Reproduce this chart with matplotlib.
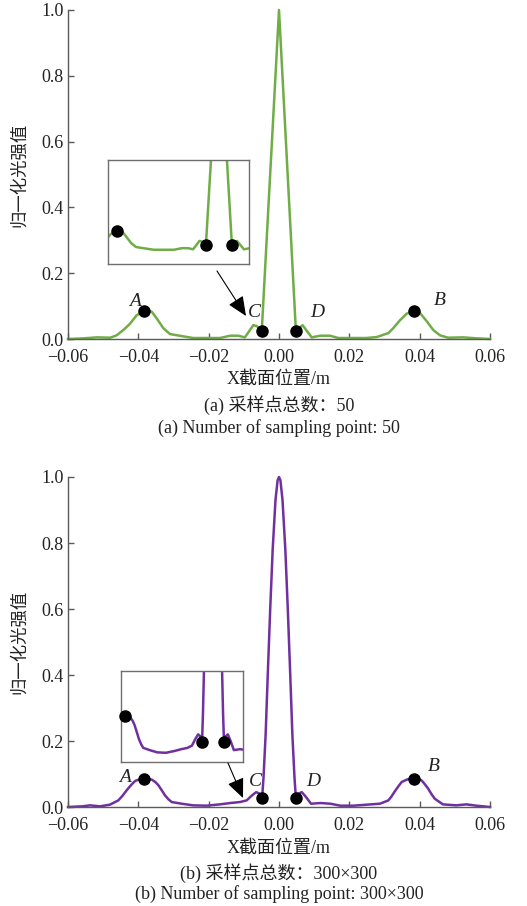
import matplotlib
matplotlib.use("Agg")
import matplotlib.pyplot as plt
from matplotlib.ticker import FuncFormatter, MultipleLocator

plt.rcParams["font.family"] = ["Liberation Serif", "Noto Sans CJK SC"]
plt.rcParams["axes.unicode_minus"] = True

# profile with 50 sampling points (piecewise linear)
x_50 = [-0.0600, -0.0556, -0.0518, -0.0480, -0.0462, -0.0443, -0.0424, -0.0405,
        -0.0383, -0.0362, -0.0348, -0.0329, -0.0310, -0.0272, -0.0244, -0.0206,
        -0.0168, -0.0139, -0.0116, -0.0097, -0.0073, -0.0063, -0.0049, 0.0000,
        0.0048, 0.0067, 0.0093, 0.0117, 0.0145, 0.0169, 0.0249, 0.0278,
        0.0311, 0.0325, 0.0344, 0.0363, 0.0384, 0.0401, 0.0420, 0.0439,
        0.0458, 0.0481, 0.0524, 0.0562, 0.0600]
y_50 = [0.000, 0.002, 0.005, 0.004, 0.011, 0.027, 0.046, 0.072,
        0.085, 0.083, 0.063, 0.033, 0.015, 0.008, 0.003, 0.003,
        0.003, 0.010, 0.010, 0.005, 0.042, 0.039, 0.025, 1.000,
        0.025, 0.042, 0.005, 0.010, 0.010, 0.003, 0.003, 0.006,
        0.018, 0.033, 0.057, 0.077, 0.085, 0.079, 0.054, 0.027,
        0.011, 0.004, 0.005, 0.002, 0.000]

# profile with 300x300 sampling points
x_300 = [-0.0600, -0.0560, -0.0537, -0.0509, -0.0481, -0.0457, -0.0445, -0.0433,
         -0.0421, -0.0409, -0.0396, -0.0383, -0.0372, -0.0362, -0.0352, -0.0343,
         -0.0333, -0.0324, -0.0314, -0.0305, -0.0277, -0.0244, -0.0206, -0.0168,
         -0.0139, -0.0111, -0.0092, -0.0077, -0.0065, -0.0054, -0.0048, -0.0044,
         -0.0038, -0.0032, -0.0025, -0.0018, -0.0010, -0.0004, 0.0000, 0.0004,
         0.0010, 0.0018, 0.0025, 0.0032, 0.0038, 0.0044, 0.0048, 0.0054,
         0.0065, 0.0077, 0.0091, 0.0118, 0.0146, 0.0174, 0.0212, 0.0249,
         0.0287, 0.0311, 0.0320, 0.0329, 0.0339, 0.0349, 0.0366, 0.0384,
         0.0395, 0.0405, 0.0414, 0.0424, 0.0433, 0.0443, 0.0466, 0.0504,
         0.0533, 0.0561, 0.0600]
y_300 = [0.000, 0.002, 0.005, 0.002, 0.007, 0.020, 0.034, 0.051,
         0.066, 0.079, 0.084, 0.086, 0.085, 0.083, 0.076, 0.066,
         0.050, 0.035, 0.023, 0.015, 0.010, 0.005, 0.004, 0.008,
         0.012, 0.015, 0.020, 0.035, 0.045, 0.040, 0.027, 0.090,
         0.220, 0.400, 0.600, 0.780, 0.930, 0.990, 1.000, 0.990,
         0.930, 0.780, 0.600, 0.400, 0.220, 0.090, 0.027, 0.040,
         0.045, 0.030, 0.010, 0.012, 0.010, 0.004, 0.004, 0.007,
         0.010, 0.020, 0.032, 0.047, 0.062, 0.076, 0.084, 0.086,
         0.085, 0.081, 0.070, 0.056, 0.040, 0.025, 0.008, 0.005,
         0.008, 0.004, 0.000]

# marked points A, C, D, B
mark_names = ["A", "C", "D", "B"]
mark_x_50 = [-0.0383, -0.0049, 0.0048, 0.0384]
mark_y_50 = [0.085, 0.025, 0.025, 0.085]
mark_x_300 = [-0.0383, -0.0048, 0.0048, 0.0384]
mark_y_300 = [0.086, 0.027, 0.027, 0.086]

ylabel_text = "归一化光强值"
xlabel_text = "X截面位置/m"
captions = [
    ("(a) 采样点总数：50", "(a) Number of sampling point: 50"),
    ("(b) 采样点总数：300×300", "(b) Number of sampling point: 300×300"),
]

W, H = 527, 906
TEXT = "#222222"
AXC = "#5a5a5a"

fig = plt.figure(figsize=(W / 100, H / 100), dpi=100)


def fx(px):
    return px / W


def fy(py):
    return 1 - py / H


def main_axes(top, bottom):
    ax = fig.add_axes([fx(68), fy(bottom), fx(490) - fx(68), fy(top) - fy(bottom)])
    ax.set_xlim(-0.06, 0.06)
    ax.set_ylim(0, 1.0)
    ax.xaxis.set_major_locator(MultipleLocator(0.02))
    ax.yaxis.set_major_locator(MultipleLocator(0.2))
    ax.xaxis.set_major_formatter(FuncFormatter(lambda v, p: f"{v:.2f}".replace("-", "\u2212")))
    ax.yaxis.set_major_formatter(FuncFormatter(lambda v, p: f"{v:.1f}"))
    for s in ("top", "right"):
        ax.spines[s].set_visible(False)
    for s in ("left", "bottom"):
        ax.spines[s].set_color(AXC)
        ax.spines[s].set_linewidth(1.0)
    ax.tick_params(direction="in", length=4, width=1, color=AXC,
                   labelsize=13, labelcolor=TEXT)
    ax.tick_params(axis="x", pad=7.5)
    ax.tick_params(axis="y", pad=3)
    return ax


def inset_axes(box, xlim, ylim):
    l, t, r, b = box
    ax = fig.add_axes([fx(l), fy(b), fx(r) - fx(l), fy(t) - fy(b)])
    ax.set_xlim(*xlim)
    ax.set_ylim(*ylim)
    ax.set_xticks([])
    ax.set_yticks([])
    for s in ax.spines.values():
        s.set_color("#6e6e6e")
        s.set_linewidth(1.0)
    return ax


panels = [
    dict(x=x_50, y=y_50, mx=mark_x_50, my=mark_y_50, color="#70ad47",
         top=10, bottom=339,
         inset=(108, 160, 249, 264), ixlim=(-0.0415, 0.0112), iylim=(-0.06, 0.40),
         arrow=((217, 271), (246, 316)),
         offsets=[(-9, 10), (-7, 18), (21, 18), (26, 11)],
         ylab=175, xlab=379, cap=(405, 428)),
    dict(x=x_300, y=y_300, mx=mark_x_300, my=mark_y_300, color="#7030a0",
         top=477, bottom=807,
         inset=(121, 671, 243, 762), ixlim=(-0.0402, 0.0131), iylim=(-0.0165, 0.186),
         arrow=((228, 763), (243, 798)),
         offsets=[(-19, 1), (-7, 17), (17, 17), (20, 12)],
         ylab=642, xlab=848, cap=(873, 894)),
]

for i, p in enumerate(panels):
    ax = main_axes(p["top"], p["bottom"])
    ax.plot(p["x"], p["y"], color=p["color"], lw=1.8, solid_joinstyle="round",
            clip_on=False, zorder=2)
    ax.plot(p["mx"], p["my"], "o", color="black", ms=8, zorder=3, clip_on=False)
    for name, x0, y0, (dx, dy) in zip(mark_names, p["mx"], p["my"], p["offsets"]):
        ax.annotate(name, (x0, y0), xytext=(dx * 0.72, dy * 0.72),
                    textcoords="offset points", ha="center", va="center",
                    fontsize=14, style="italic", color=TEXT,
                    family="Liberation Serif")

    ins = inset_axes(p["inset"], p["ixlim"], p["iylim"])
    ins.plot(p["x"], p["y"], color=p["color"], lw=1.8, zorder=2)
    ins.plot(p["mx"][:3], p["my"][:3], "o", color="black", ms=8, zorder=3,
             clip_on=False)

    (x0, y0), (x1, y1) = p["arrow"]
    fig.add_artist(matplotlib.patches.FancyArrowPatch(
        (fx(x0), fy(y0)), (fx(x1), fy(y1)), transform=fig.transFigure,
        arrowstyle="-|>,head_length=0.8,head_width=0.35", mutation_scale=15,
        color="black", lw=0.8, shrinkA=0, shrinkB=0))

    fig.text(fx(20), fy(p["ylab"]), ylabel_text, rotation=90, ha="center",
             va="center", fontsize=12.5, color=TEXT)
    fig.text(fx(279), fy(p["xlab"]), xlabel_text, ha="center", va="center",
             fontsize=13, color=TEXT)
    fig.text(fx(279), fy(p["cap"][0]), captions[i][0], ha="center", va="center",
             fontsize=13, color=TEXT)
    fig.text(fx(279), fy(p["cap"][1]), captions[i][1], ha="center", va="center",
             fontsize=13, color=TEXT)

fig.savefig("out.png", dpi=100, facecolor="white")
